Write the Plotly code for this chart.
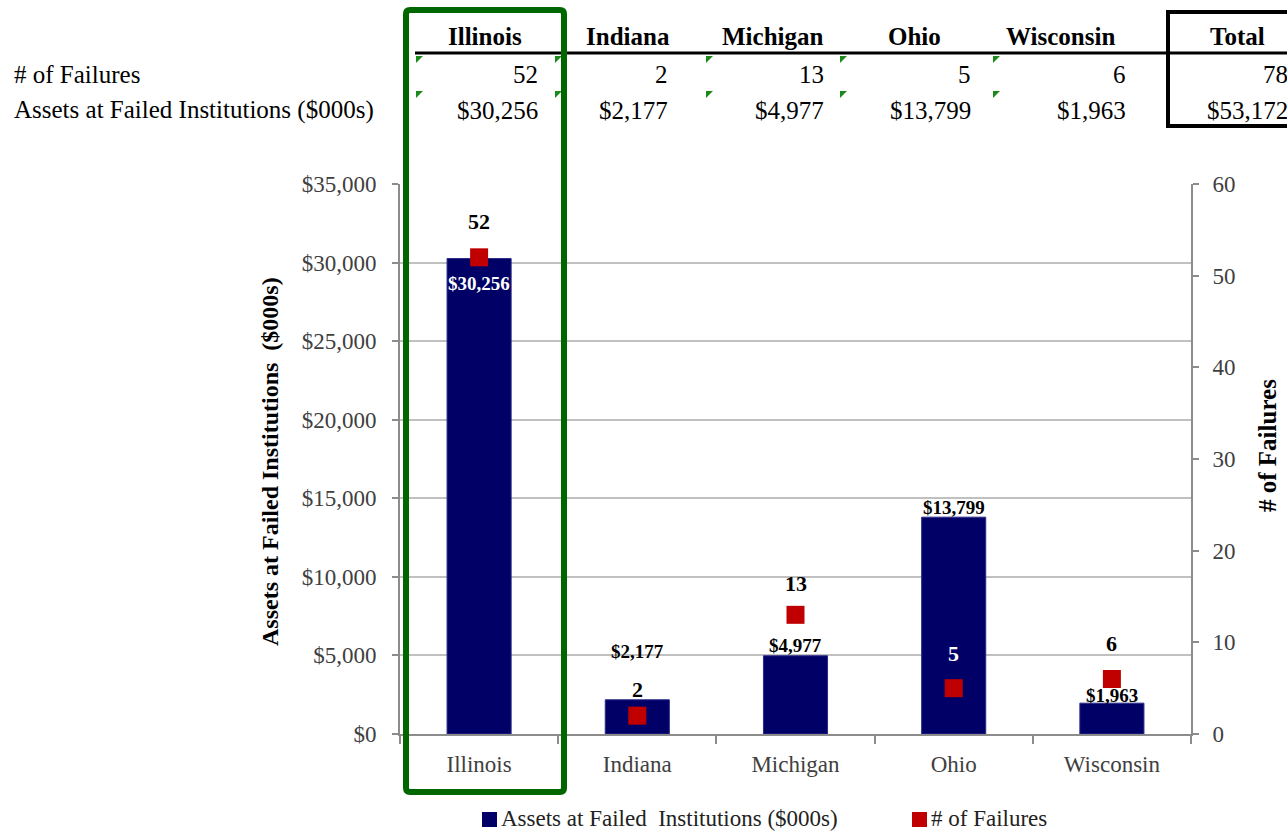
import plotly.graph_objects as go

# ---- data ----
states = ["Illinois", "Indiana", "Michigan", "Ohio", "Wisconsin"]
failures = [52, 2, 13, 5, 6]
assets = [30256, 2177, 4977, 13799, 1963]
asset_ticks = [0, 5000, 10000, 15000, 20000, 25000, 30000, 35000]
failure_ticks = [0, 10, 20, 30, 40, 50, 60]
row_labels = ["# of Failures", "Assets at Failed Institutions ($000s)"]
asset_name = "Assets at Failed Institutions ($000s)"
failure_name = "# of Failures"

# ---- layout geometry (pixels) ----
W, H = 1287, 831
L, R, T, B = 400, 1191, 184, 734           # plot area edges
FONT = "Liberation Serif"
NAVY = "#000066"
RED = "#C00000"
GREEN = "#006600"


def px(x):
    return (x - L) / (R - L)


def py(y):
    return (B - y) / (B - T)


def note(x, y, text, font, xanchor="center", **kw):
    """Text placed at a pixel position of the page."""
    return dict(x=px(x), y=py(y), xref="paper", yref="paper", text=text,
                showarrow=False, xanchor=xanchor, yanchor="middle", font=font, **kw)


# label offsets (pixels, upward) for the value labels above/inside the marks
fail_shift = [36, 26, 31, 35, 36]
fail_color = ["black", "black", "black", "white", "black"]
asset_shift = [-25, 48, 10, 10, 8]
asset_color = ["white", "black", "black", "black", "black"]

# table column placement
head_x = [485, 628, 772, 914, 1060]
total_head_x = 1237
val_right_x = [540, 670, 826, 973, 1128]
total_right_x = 1290
flag_x = [416, 555, 706, 840, 993]
head_y, row_y = 37, [75, 110]
flag_y = [56, 91]

fig = go.Figure()
fig.add_trace(go.Bar(
    x=states, y=assets, name=asset_name, width=0.405,
    marker=dict(color=NAVY, line=dict(color="#2a2a88", width=1)),
))
fig.add_trace(go.Scatter(
    x=states, y=failures, name=failure_name, yaxis="y2", mode="markers",
    marker=dict(symbol="square", size=18, color=RED),
))

ann = []
# value labels
for s, v, sh, c in zip(states, failures, fail_shift, fail_color):
    ann.append(dict(x=s, y=v, xref="x", yref="y2", yshift=sh, text=f"<b>{v}</b>",
                    showarrow=False, yanchor="middle",
                    font=dict(family=FONT, size=22, color=c)))
for s, v, sh, c in zip(states, assets, asset_shift, asset_color):
    ann.append(dict(x=s, y=v, xref="x", yref="y", yshift=sh, text=f"<b>${v:,}</b>",
                    showarrow=False, yanchor="middle",
                    font=dict(family=FONT, size=19, color=c)))

# axis titles
ann.append(note(270, 462, f"<b>{asset_name.replace('Institutions ', 'Institutions  ')}</b>",
                dict(family=FONT, size=24, color="black"), textangle=-90))
ann.append(note(1267, 446, f"<b>{failure_name}</b>",
                dict(family=FONT, size=25, color="black"), textangle=-90))

# summary table above the chart
tfont = dict(family=FONT, size=25, color="black")
for s, x in zip(states, head_x):
    ann.append(note(x, head_y, f"<b>{s}</b>", tfont))
ann.append(note(total_head_x, head_y, "<b>Total</b>", tfont))
for lbl, y in zip(row_labels, row_y):
    ann.append(note(12, y, lbl, tfont, xanchor="left"))
for f, a, x in zip(failures, assets, val_right_x):
    ann.append(note(x, row_y[0], f"{f}", tfont, xanchor="right"))
    ann.append(note(x, row_y[1], f"${a:,}", tfont, xanchor="right"))
ann.append(note(total_right_x, row_y[0], f"{sum(failures)}", tfont, xanchor="right"))
ann.append(note(total_right_x, row_y[1], f"${sum(assets):,}", tfont, xanchor="right"))

# legend (swatch + name) below the axis
legend_items = [(482, NAVY, asset_name.replace("Institutions ", " Institutions ")),
                (912, RED, failure_name)]
for x, col, name in legend_items:
    ann.append(note(x + 17, 818, name, dict(family=FONT, size=23, color="#222"),
                    xanchor="left"))

shapes = []
for x, col, name in legend_items:
    shapes.append(dict(type="rect", xref="paper", yref="paper", x0=px(x), x1=px(x + 15),
                       y0=py(812), y1=py(827), fillcolor=col, line=dict(width=0)))
# header underline
shapes.append(dict(type="line", xref="paper", yref="paper", x0=px(415), x1=px(1290),
                   y0=py(53), y1=py(53), line=dict(color="black", width=3), layer="above"))
# total box
shapes.append(dict(type="rect", xref="paper", yref="paper", x0=px(1168), x1=px(1300),
                   y0=py(12), y1=py(126), line=dict(color="black", width=4), layer="above"))
# cell flags
for yy in flag_y:
    for xx in flag_x:
        path = (f"M{px(xx)},{py(yy)} L{px(xx + 7)},{py(yy)} L{px(xx)},{py(yy + 7)} Z")
        shapes.append(dict(type="path", xref="paper", yref="paper", path=path,
                           fillcolor="#1a8a1a", line=dict(width=0), layer="above"))
# highlight frame around the first column
x0, x1, y0, y1, r = 406, 564, 10, 792, 4
frame = (f"M{px(x0 + r)},{py(y0)} L{px(x1 - r)},{py(y0)} Q{px(x1)},{py(y0)} {px(x1)},{py(y0 + r)} "
         f"L{px(x1)},{py(y1 - r)} Q{px(x1)},{py(y1)} {px(x1 - r)},{py(y1)} "
         f"L{px(x0 + r)},{py(y1)} Q{px(x0)},{py(y1)} {px(x0)},{py(y1 - r)} "
         f"L{px(x0)},{py(y0 + r)} Q{px(x0)},{py(y0)} {px(x0 + r)},{py(y0)} Z")
shapes.append(dict(type="path", xref="paper", yref="paper", path=frame,
                   line=dict(color=GREEN, width=6), layer="above"))

tickfont = dict(family=FONT, size=23, color="#404040")
fig.update_layout(
    width=W, height=H,
    margin=dict(l=L, r=W - R, t=T, b=H - B, pad=0, autoexpand=False),
    paper_bgcolor="white", plot_bgcolor="white",
    font=dict(family=FONT, color="black"),
    showlegend=False,
    xaxis=dict(type="category", range=[-0.5, 4.5], tickfont=tickfont,
               showline=True, linecolor="#8c8c8c", linewidth=2,
               ticks="outside", tickson="boundaries", ticklen=8, tickcolor="#8c8c8c",
               tickwidth=2, ticklabelstandoff=8, showgrid=False, zeroline=False),
    yaxis=dict(range=[0, 35000], tickvals=asset_ticks,
               ticktext=[f"${v:,}" for v in asset_ticks],
               tickfont=tickfont, showline=True, linecolor="#8c8c8c", linewidth=2,
               ticks="outside", ticklen=6, tickcolor="#8c8c8c", tickwidth=2,
               ticklabelstandoff=11,
               showgrid=True, gridcolor="#c0c0c0", gridwidth=2, zeroline=False),
    yaxis2=dict(range=[0, 60], tickvals=failure_ticks, overlaying="y", side="right",
                tickfont=tickfont, showline=True, linecolor="#8c8c8c", linewidth=2,
                ticks="outside", ticklen=6, tickcolor="#8c8c8c", tickwidth=2,
                ticklabelstandoff=9, showgrid=False, zeroline=False),
    annotations=ann,
    shapes=shapes,
)

fig.write_html("out.html")
